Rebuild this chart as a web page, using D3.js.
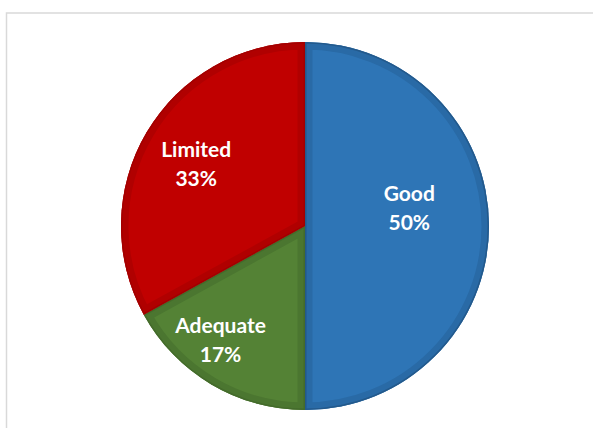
<!DOCTYPE html>
<html>
<head>
<meta charset="utf-8">
<script src="https://cdn.jsdelivr.net/npm/d3@7/dist/d3.min.js"></script>
<style>
html,body{margin:0;padding:0;background:#fff;}
svg{display:block;}
</style>
</head>
<body>
<svg id="chart" width="593" height="428"></svg>
<script>
const categories = ["Good", "Adequate", "Limited"];
const values = [50, 17, 33];
const labels = ["50%", "17%", "33%"];

const fillColors = ["#2E75B6", "#548235", "#C00000"];
const bandColors = ["#296AA6", "#4B7630", "#B00000"];
const edgeColors = ["#1F4E79", "#3F6428", "#9A0000"];
// label placement: radius factor and angular offset (deg) relative to slice mid-angle
const labelRadius = [0.575, 0.77, 0.68];
const labelAngleOffset = [-9.8, 6, -1];

const W = 593, H = 428;
const cx = 305, cy = 226, R = 184;

const svg = d3.select("#chart");

// frame (cropped)
svg.append("path")
  .attr("d", `M6.5,${H} L6.5,13 L${W},13`)
  .attr("fill", "none")
  .attr("stroke", "#d9d9d9")
  .attr("stroke-width", 1.5);

const data = categories.map((c, i) => ({ cat: c, value: values[i], label: labels[i], i }));

const pie = d3.pie().value(d => d.value).sort(null);
const arcs = pie(data);
const arc = d3.arc().innerRadius(0).outerRadius(R);

const g = svg.append("g").attr("transform", `translate(${cx},${cy})`);
const defs = svg.append("defs");

arcs.forEach((a, k) => {
  const id = "clip" + k;
  defs.append("clipPath").attr("id", id)
    .append("path").attr("d", arc(a)).attr("transform", `translate(${cx},${cy})`);
  g.append("path")
    .attr("d", arc(a))
    .attr("fill", fillColors[a.data.i]);
  const cg = svg.append("g").attr("clip-path", `url(#${id})`)
    .append("g").attr("transform", `translate(${cx},${cy})`);
  cg.append("path")
    .attr("d", arc(a))
    .attr("fill", "none")
    .attr("stroke", bandColors[a.data.i])
    .attr("stroke-width", 15)
    .attr("stroke-linejoin", "round");
  cg.append("path")
    .attr("d", arc(a))
    .attr("fill", "none")
    .attr("stroke", edgeColors[a.data.i])
    .attr("stroke-opacity", 0.6)
    .attr("stroke-width", 3);
});

// labels
const lg = svg.append("g").attr("transform", `translate(${cx},${cy})`);
arcs.forEach(a => {
  const i = a.data.i;
  const mid = (a.startAngle + a.endAngle) / 2 + labelAngleOffset[i] * Math.PI / 180;
  const r = labelRadius[i] * R;
  const x = Math.sin(mid) * r;
  const y = -Math.cos(mid) * r;
  const t = lg.append("text")
    .attr("text-anchor", "middle")
    .attr("font-family", "Lato, 'Open Sans', sans-serif")
    .attr("font-weight", "bold")
    .attr("font-size", 21)
    .attr("fill", "#ffffff");
  t.append("tspan").attr("x", x).attr("y", y - 7).text(a.data.cat);
  t.append("tspan").attr("x", x).attr("y", y + 22).text(a.data.label);
});
</script>
</body>
</html>
